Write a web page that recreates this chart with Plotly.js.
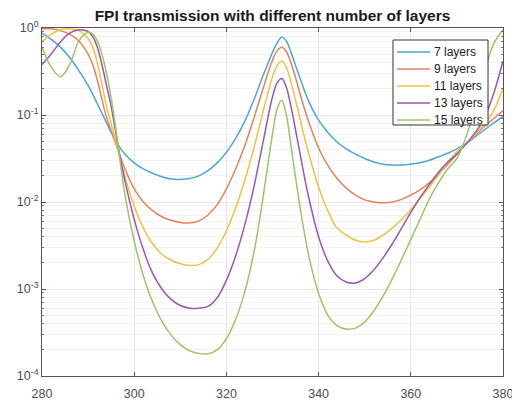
<!DOCTYPE html>
<html>
<head>
<meta charset="utf-8">
<script src="https://cdn.plot.ly/plotly-3.0.1.min.js"></script>
<style>html,body{margin:0;padding:0;background:#fff;}#chart{width:512px;height:405px;}</style>
</head>
<body>
<div id="chart"></div>
<script>
// wavelength grid (nm)
const wavelength = [280,282,284,286,288,290,291,292,293,294,295,296,297,298,300,302,304,306,308,310,312,314,316,318,320,322,324,326,327,328,329,330,331,332,333,334,335,336,337,338,340,342,344,346,348,350,352,354,356,358,360,362,364,366,368,370,372,374,376,378,380];

// log10(transmission)
const logT7  = [-0.06,-0.13,-0.22,-0.34,-0.49,-0.66,-0.76,-0.87,-0.98,-1.09,-1.2,-1.3,-1.38,-1.45,-1.55,-1.62,-1.67,-1.71,-1.735,-1.74,-1.73,-1.70,-1.64,-1.55,-1.43,-1.27,-1.07,-0.82,-0.68,-0.54,-0.41,-0.28,-0.17,-0.105,-0.15,-0.28,-0.43,-0.58,-0.73,-0.86,-1.06,-1.2,-1.31,-1.39,-1.45,-1.5,-1.54,-1.565,-1.575,-1.575,-1.565,-1.55,-1.52,-1.48,-1.44,-1.39,-1.33,-1.25,-1.17,-1.09,-1.02];
const logT9  = [-0.01,-0.01,-0.03,-0.07,-0.15,-0.3,-0.42,-0.6,-0.82,-1.03,-1.18,-1.33,-1.48,-1.62,-1.85,-2.0,-2.1,-2.17,-2.21,-2.235,-2.24,-2.22,-2.15,-2.03,-1.85,-1.62,-1.35,-1.03,-0.86,-0.69,-0.52,-0.37,-0.26,-0.22,-0.27,-0.4,-0.57,-0.76,-0.94,-1.1,-1.38,-1.58,-1.73,-1.84,-1.92,-1.975,-2.0,-2.01,-2.0,-1.97,-1.92,-1.86,-1.78,-1.68,-1.57,-1.45,-1.33,-1.23,-1.13,-1.04,-0.95];
const logT11 = [-0.16,-0.07,-0.02,-0.01,-0.03,-0.12,-0.22,-0.4,-0.65,-0.9,-1.1,-1.3,-1.52,-1.71,-2.05,-2.3,-2.48,-2.6,-2.67,-2.71,-2.73,-2.72,-2.66,-2.53,-2.33,-2.07,-1.75,-1.37,-1.16,-0.95,-0.75,-0.56,-0.43,-0.38,-0.45,-0.62,-0.83,-1.05,-1.27,-1.47,-1.83,-2.1,-2.3,-2.38,-2.44,-2.46,-2.44,-2.38,-2.3,-2.2,-2.09,-1.96,-1.83,-1.69,-1.55,-1.42,-1.33,-1.22,-1.1,-0.95,-0.69];
const logT13 = [-0.42,-0.3,-0.16,-0.06,-0.02,-0.04,-0.1,-0.22,-0.42,-0.66,-0.9,-1.2,-1.5,-1.76,-2.2,-2.55,-2.82,-3.0,-3.12,-3.19,-3.22,-3.22,-3.2,-3.1,-2.9,-2.62,-2.26,-1.82,-1.56,-1.3,-1.03,-0.79,-0.63,-0.58,-0.68,-0.9,-1.17,-1.45,-1.73,-1.98,-2.4,-2.68,-2.85,-2.92,-2.93,-2.88,-2.78,-2.64,-2.48,-2.3,-2.12,-1.95,-1.8,-1.66,-1.54,-1.45,-1.33,-1.2,-1.03,-0.75,-0.38];
const logT15 = [-0.22,-0.45,-0.56,-0.42,-0.15,-0.05,-0.07,-0.15,-0.3,-0.52,-0.8,-1.15,-1.55,-1.92,-2.45,-2.85,-3.15,-3.37,-3.53,-3.64,-3.71,-3.74,-3.745,-3.7,-3.57,-3.35,-3.03,-2.57,-2.27,-1.93,-1.57,-1.22,-0.93,-0.83,-1.0,-1.35,-1.72,-2.07,-2.38,-2.65,-3.05,-3.3,-3.42,-3.46,-3.45,-3.38,-3.25,-3.08,-2.88,-2.66,-2.43,-2.2,-1.97,-1.78,-1.62,-1.5,-1.25,-0.9,-0.5,-0.18,-0.02];

const seriesNames = ['7 layers','9 layers','11 layers','13 layers','15 layers'];
const seriesLogs = [logT7, logT9, logT11, logT13, logT15];
const seriesColors = ['#4DA6D8','#E3825F','#EFC245','#9A57AE','#9CC667'];

const xTickVals = [280,300,320,340,360,380];
const yTickVals = [1e-4,1e-3,1e-2,1e-1,1];
const yTickText = ['10<sup>-4</sup>','10<sup>-3</sup>','10<sup>-2</sup>','10<sup>-1</sup>','10<sup>0</sup>'];

const traces = seriesLogs.map((lg,i)=>({
  x: wavelength,
  y: lg.map(v=>Math.pow(10,v)),
  type:'scatter', mode:'lines', name: seriesNames[i],
  line:{color:seriesColors[i], width:1.5, shape:'spline', smoothing:1.0}
}));

// custom legend (MATLAB-like compact rows)
const legBox = {x0:0.7614, x1:0.9675, y0:0.7213, y1:0.9655};
const legRowY = [0.9310, 0.8822, 0.8333, 0.7845, 0.7356];
const shapes = [{type:'rect', xref:'paper', yref:'paper', x0:legBox.x0, x1:legBox.x1, y0:legBox.y0, y1:legBox.y1,
                 fillcolor:'#ffffff', line:{color:'#333', width:1}, layer:'above'}];
const annotations = [];
seriesNames.forEach((n,i)=>{
  shapes.push({type:'line', xref:'paper', yref:'paper', x0:0.7701, x1:0.8416, y0:legRowY[i], y1:legRowY[i],
               line:{color:seriesColors[i], width:1.5}, layer:'above'});
  annotations.push({xref:'paper', yref:'paper', x:0.846, y:legRowY[i], xanchor:'left', yanchor:'middle',
                    text:n, showarrow:false, font:{size:12, color:'#222'}});
});

const layout = {
  width:512, height:405,
  margin:{l:42, r:9, t:28, b:29},
  paper_bgcolor:'#fff', plot_bgcolor:'#fff',
  font:{family:'Liberation Sans, Arial, sans-serif', size:12, color:'#4d4d4d'},
  title:{text:'<b>FPI transmission with different number of layers</b>', xref:'paper', x:0.5, xanchor:'center',
         yref:'container', y:0.962, yanchor:'middle', font:{size:15.5, color:'#1a1a1a'}},
  showlegend:false,
  shapes: shapes,
  annotations: annotations,
  xaxis:{range:[280,380], tickvals:xTickVals, ticks:'inside', ticklen:4, tickcolor:'#555',
         showgrid:true, gridcolor:'#e6e6e6', gridwidth:1, zeroline:false, ticklabeloverflow:'allow',
         ticklabelstandoff:6,
         showline:true, linecolor:'#555', linewidth:1, mirror:'ticks', tickfont:{size:12.5,color:'#4d4d4d'}},
  yaxis:{type:'log', range:[-4,0], tickvals:yTickVals, ticktext:yTickText, ticks:'inside', ticklen:4, tickcolor:'#555',
         showgrid:true, gridcolor:'#e6e6e6', gridwidth:1, zeroline:false,
         showline:true, linecolor:'#555', linewidth:1, mirror:'ticks', tickfont:{size:12.5,color:'#4d4d4d'},
         minor:{tickvals:[2e-4,3e-4,4e-4,5e-4,6e-4,7e-4,8e-4,9e-4,2e-3,3e-3,4e-3,5e-3,6e-3,7e-3,8e-3,9e-3,2e-2,3e-2,4e-2,5e-2,6e-2,7e-2,8e-2,9e-2,0.2,0.3,0.4,0.5,0.6,0.7,0.8,0.9],
                ticks:'inside', ticklen:2, tickcolor:'#777', showgrid:true, gridcolor:'#f3f3f3'}}
};

Plotly.newPlot('chart', traces, layout, {staticPlot:true, displayModeBar:false});
</script>
</body>
</html>
